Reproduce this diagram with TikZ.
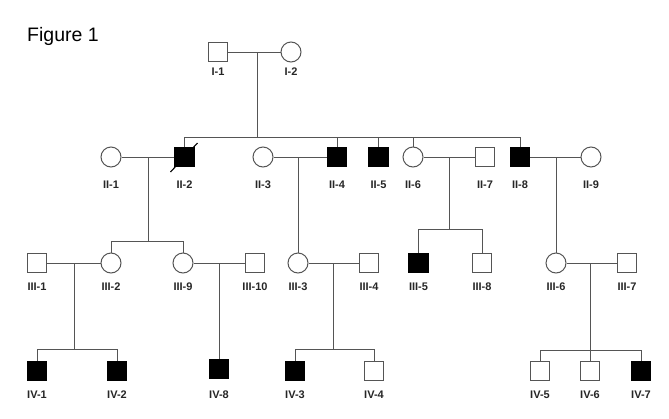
\documentclass[tikz,border=0pt]{standalone}
\usepackage{fontspec}
\setmainfont{Liberation Sans}
\definecolor{lc}{HTML}{555555}
\begin{document}
\begin{tikzpicture}[x=1pt,y=-1pt,
  line/.style={draw=lc, line width=1pt},
  male/.style={rectangle, draw=lc, line width=1pt, fill=white, minimum size=19.5pt, inner sep=0pt},
  female/.style={circle, draw=lc, line width=1pt, fill=white, minimum size=20pt, inner sep=0pt},
  aff/.style={fill=black, draw=black},
  lab/.style={font=\fontsize{11}{11}\selectfont\bfseries, inner sep=0pt, anchor=center, text=black!85}]
\useasboundingbox[fill=white] (0,0) rectangle (669,418);

\node[anchor=base west, inner sep=0pt, font=\fontsize{19.5}{20}\selectfont] (title) at (27,41) {Figure 1};

% Generation I
\node[male] (I1) at (218,52) {};
\node[female] (I2) at (291,52) {};
\node[lab] (lI1) at (218,72) {I-1};
\node[lab] (lI2) at (291,72) {I-2};

% Generation II
\node[female] (II1) at (111,157) {};
\node[male,aff] (II2) at (184.5,157) {};
\node[female] (II3) at (263,157) {};
\node[male,aff] (II4) at (337,157) {};
\node[male,aff] (II5) at (378.5,157) {};
\node[female] (II6) at (413,157) {};
\node[male] (II7) at (485,157) {};
\node[male,aff] (II8) at (520,157) {};
\node[female] (II9) at (591,157) {};
\foreach \n/\x/\t in {lII1/111/II-1, lII2/184.5/II-2, lII3/263/II-3, lII4/337/II-4, lII5/378.5/II-5, lII6/413/II-6, lII7/485/II-7, lII8/520/II-8, lII9/591/II-9}
  \node[lab] (\n) at (\x,185) {\t};

% Generation III
\node[male] (III1) at (37,263) {};
\node[female] (III2) at (111,263) {};
\node[female] (III9) at (183,263) {};
\node[male] (III10) at (255,263) {};
\node[female] (III3) at (298,263) {};
\node[male] (III4) at (369,263) {};
\node[male,aff] (III5) at (418.5,263) {};
\node[male] (III8) at (482,263) {};
\node[female] (III6) at (556,263) {};
\node[male] (III7) at (627,263) {};
\foreach \n/\x/\t in {lIII1/37/III-1, lIII2/111/III-2, lIII9/183/III-9, lIII10/255/III-10, lIII3/298/III-3, lIII4/369/III-4, lIII5/418.5/III-5, lIII8/482/III-8, lIII6/556/III-6, lIII7/627/III-7}
  \node[lab] (\n) at (\x,287) {\t};

% Generation IV
\node[male,aff] (IV1) at (37,371) {};
\node[male,aff] (IV2) at (117,371) {};
\node[male,aff] (IV8) at (219,369) {};
\node[male,aff] (IV3) at (295,371) {};
\node[male] (IV4) at (374,371) {};
\node[male] (IV5) at (540,371) {};
\node[male] (IV6) at (590,371) {};
\node[male,aff] (IV7) at (641,371) {};
\foreach \n/\x/\t in {lIV1/37/IV-1, lIV2/117/IV-2, lIV8/219/IV-8, lIV3/295/IV-3, lIV4/374/IV-4, lIV5/540/IV-5, lIV6/590/IV-6, lIV7/641/IV-7}
  \node[lab] (\n) at (\x,395) {\t};

% deceased mark
\draw[black, line width=1.1pt] ([shift={(-14,15)}]II2.center) -- ([shift={(13,-14)}]II2.center);

% I-1 x I-2
\draw[line] (I1) -- (I2);
\coordinate (mI) at (257,52);
\coordinate (sII) at (257,137);
\draw[line] (mI) -- (sII);
\draw[line] (II2 |- sII) -- (II8 |- sII);
\foreach \n in {II2,II4,II5,II6,II8} \draw[line] (\n |- sII) -- (\n);

% II-1 x II-2
\draw[line] (II1) -- (II2);
\coordinate (m12) at (148,157);
\coordinate (s12) at (148,241);
\draw[line] (m12) -- (s12);
\draw[line] (III2 |- s12) -- (III9 |- s12);
\foreach \n in {III2,III9} \draw[line] (\n |- s12) -- (\n);

% II-3 x II-4
\draw[line] (II3) -- (II4);
\coordinate (m34) at (298,157);
\draw[line] (m34) -- (III3);

% II-6 x II-7
\draw[line] (II6) -- (II7);
\coordinate (m67) at (449,157);
\coordinate (s67) at (449,229);
\draw[line] (m67) -- (s67);
\draw[line] (III5 |- s67) -- (III8 |- s67);
\foreach \n in {III5,III8} \draw[line] (\n |- s67) -- (\n);

% II-8 x II-9
\draw[line] (II8) -- (II9);
\coordinate (m89) at (556,157);
\draw[line] (m89) -- (III6);

% III-1 x III-2
\draw[line] (III1) -- (III2);
\coordinate (m3a) at (74,263);
\coordinate (s3a) at (74,349);
\draw[line] (m3a) -- (s3a);
\draw[line] (IV1 |- s3a) -- (IV2 |- s3a);
\foreach \n in {IV1,IV2} \draw[line] (\n |- s3a) -- (\n);

% III-9 x III-10
\draw[line] (III9) -- (III10);
\coordinate (m3b) at (219,263);
\draw[line] (m3b) -- (IV8);

% III-3 x III-4
\draw[line] (III3) -- (III4);
\coordinate (m3c) at (333,263);
\coordinate (s3c) at (333,349);
\draw[line] (m3c) -- (s3c);
\draw[line] (IV3 |- s3c) -- (IV4 |- s3c);
\foreach \n in {IV3,IV4} \draw[line] (\n |- s3c) -- (\n);

% III-6 x III-7
\draw[line] (III6) -- (III7);
\coordinate (m3d) at (590,263);
\coordinate (s3d) at (590,350);
\draw[line] (m3d) -- (s3d);
\draw[line] (IV5 |- s3d) -- (IV7 |- s3d);
\foreach \n in {IV5,IV6,IV7} \draw[line] (\n |- s3d) -- (\n);
\end{tikzpicture}
\end{document}
